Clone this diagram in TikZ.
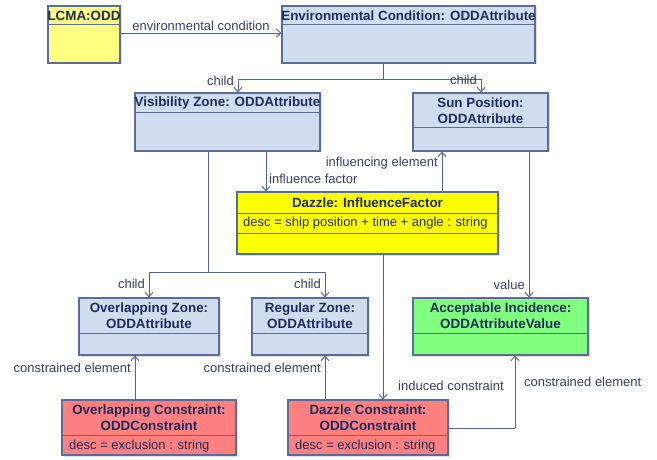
\documentclass[tikz,border=0pt]{standalone}
\usepackage{fontspec}
\setmainfont{Liberation Sans}
\usetikzlibrary{arrows.meta,fit,shadows}
\definecolor{bluefill}{HTML}{D2DCEF}
\definecolor{yelfillA}{HTML}{FFFF80}
\definecolor{yelfillB}{HTML}{FFFF00}
\definecolor{greenfill}{HTML}{80FF80}
\definecolor{redfill}{HTML}{FF8080}
\definecolor{bordercol}{HTML}{5A6C98}
\definecolor{edgecol}{HTML}{52638F}
\definecolor{titlecol}{HTML}{1E2B5C}
\definecolor{labelcol}{HTML}{383E5E}
\newcommand\umlclass[8]{%
  \node[cls, fill=#7, fit={(#2,#3) (#4,#5)}] (#1) {};
  \draw[sepline] (#2,#6) -- (#4,#6);
  \node[ttl] (#1t) at ({(#2+#4)/2},{(#3+#6)/2}) {#8};
}
\begin{document}
\begin{tikzpicture}[x=1pt,y=-1pt,
  font=\fontsize{13}{15}\selectfont,
  cls/.style={draw=bordercol, line width=1.1pt, inner sep=0pt,
    drop shadow={shadow xshift=1.5pt, shadow yshift=-1.5pt, opacity=0.25}},
  sepline/.style={draw=bordercol, line width=1pt},
  ttl/.style={text=titlecol, font=\fontsize{13.4}{15.5}\bfseries, align=center, inner sep=0pt},
  attr/.style={text=titlecol, anchor=west, inner sep=0pt},
  lbl/.style={text=labelcol, inner sep=1pt},
  edge/.style={draw=edgecol, line width=0.9pt, -{Straight Barb[length=4.5pt,width=8pt]}},
  plain/.style={draw=edgecol, line width=0.9pt}]
\useasboundingbox (0,0) rectangle (657,460);

\umlclass{lcma}{48}{6}{120}{63}{25}{yelfillA}{LCMA:ODD}
\umlclass{env}{282}{6}{535}{63}{25}{bluefill}{Environmental Condition: ODDAttribute}
\umlclass{vis}{135}{93}{320}{151}{113}{bluefill}{Visibility Zone: ODDAttribute}
\umlclass{sun}{413}{93}{548}{151}{128}{bluefill}{Sun Position:\\ODDAttribute}
\umlclass{dz}{237}{192}{498}{254}{213}{yelfillB}{Dazzle: InfluenceFactor}
\draw[sepline] (237,233) -- (498,233);
\node[attr] (dzattr) at (243,223) {desc = ship position + time + angle : string};
\umlclass{ovz}{79}{298}{219}{355}{333}{bluefill}{Overlapping Zone:\\ODDAttribute}
\umlclass{reg}{252}{298}{368}{355}{333}{bluefill}{Regular Zone:\\ODDAttribute}
\umlclass{acc}{413}{298}{588}{355}{333}{greenfill}{Acceptable Incidence:\\ODDAttributeValue}
\umlclass{ovc}{62}{400}{236}{455}{435}{redfill}{Overlapping Constraint:\\ODDConstraint}
\node[attr] (ovcattr) at (69,446) {desc = exclusion : string};
\umlclass{dzc}{288}{400}{448}{455}{435}{redfill}{Dazzle Constraint:\\ODDConstraint}
\node[attr] (dzcattr) at (295,446) {desc = exclusion : string};

% LCMA -> Environmental Condition
\draw[edge] (lcma.east |- 0,33) -- node[lbl, above=1pt] (l1) {environmental condition} (env.west |- 0,33);

% Environmental Condition -> children
\coordinate (envJ) at (383,79);
\draw[plain] (env.south -| envJ) -- (envJ);
\draw[edge] (envJ) -| (vis.north -| 238,0);
\draw[edge] (envJ) -| (sun.north -| 481,0);
\node[lbl, anchor=east] (l2) at (235,81) {child};
\node[lbl, anchor=east] (l3) at (478,80) {child};

% Visibility -> Dazzle (influence factor)
\draw[edge] (vis.south -| 266,0) -- (dz.north -| 266,0);
\node[lbl, anchor=west] (l4) at (268,179) {influence factor};

% Dazzle -> Sun (influencing element)
\draw[edge] (dz.north -| 442,0) -- (sun.south -| 442,0);
\node[lbl, anchor=east] (l5) at (439,163) {influencing element};

% Sun -> Acceptable (value)
\draw[edge] (sun.south -| 529,0) -- (acc.north -| 529,0);
\node[lbl, anchor=east] (l6) at (526,285) {value};

% Visibility -> Overlapping / Regular
\coordinate (visJ) at (208,272);
\draw[plain] (vis.south -| visJ) -- (visJ);
\draw[edge] (visJ) -| (ovz.north -| 149,0);
\draw[edge] (visJ) -| (reg.north -| 325,0);
\node[lbl, anchor=east] (l7) at (146,284) {child};
\node[lbl, anchor=east] (l8) at (322,284) {child};

% Overlapping Constraint -> Overlapping Zone
\draw[edge] (ovc.north -| 135,0) -- (ovz.south -| 135,0);
\node[lbl, anchor=east] (l9) at (132,368) {constrained element};

% Dazzle Constraint -> Regular Zone
\draw[edge] (dzc.north -| 325,0) -- (reg.south -| 325,0);
\node[lbl, anchor=east] (l10) at (322,368) {constrained element};

% Dazzle -> Dazzle Constraint (induced constraint)
\draw[edge] (dz.south -| 383,0) -- (dzc.north -| 383,0);
\node[lbl, anchor=west] (l11) at (397,386) {induced constraint};

% Dazzle Constraint -> Acceptable (constrained element)
\coordinate (dzcJ) at (515,428);
\draw[plain] (dzc.east |- dzcJ) -- (dzcJ);
\draw[edge] (dzcJ) -- (acc.south -| dzcJ);
\node[lbl, anchor=west] (l12) at (523,382) {constrained element};
\end{tikzpicture}
\end{document}
